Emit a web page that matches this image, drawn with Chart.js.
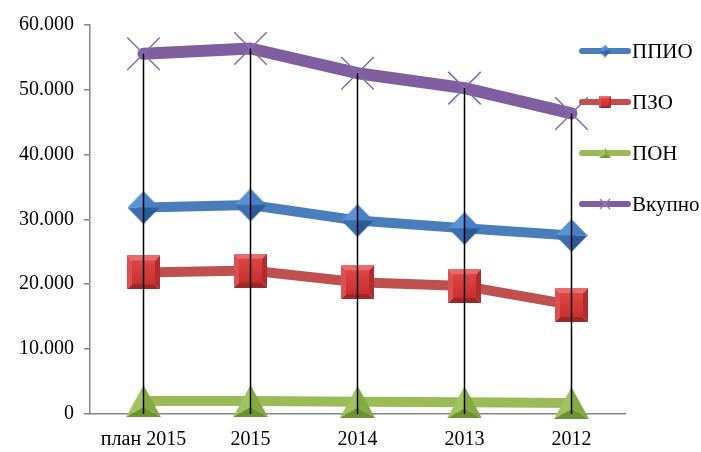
<!DOCTYPE html>
<html>
<head>
<meta charset="utf-8">
<script src="https://cdn.jsdelivr.net/npm/chart.js@4"></script>
<style>
    html, body { margin: 0; padding: 0; background: #ffffff; }
    #wrap { width: 701px; height: 452px; position: relative; }
</style>
</head>
<body>
<div id="wrap"><canvas id="chart"></canvas></div>
<script>
// Categories and series
const categories = ['план 2015', '2015', '2014', '2013', '2012'];
const ppioValues = [31800, 32200, 29800, 28600, 27500];
const pzoValues = [21800, 22100, 20300, 19700, 16800];
const ponValues = [2000, 2000, 1900, 1800, 1700];
const vkupnoValues = [55500, 56300, 52500, 50200, 46300];
const seriesLabels = ['ППИО', 'ПЗО', 'ПОН', 'Вкупно'];
const yTicks = [0, 10000, 20000, 30000, 40000, 50000, 60000];

const FONT = '"Liberation Serif", "Times New Roman", serif';

function formatThousands(v) {
    if (v === 0) return '0';
    const s = String(Math.round(v));
    return s.replace(/\B(?=(\d{3})+(?!\d))/g, '.');
}

// Beveled marker images, drawn once into small canvases
function facet(ctx, pts, color) {
    ctx.fillStyle = color;
    ctx.beginPath();
    ctx.moveTo(pts[0][0], pts[0][1]);
    for (let i = 1; i < pts.length; i++) ctx.lineTo(pts[i][0], pts[i][1]);
    ctx.closePath();
    ctx.fill();
}

function makeDiamond(w, h) {
    const c = document.createElement('canvas');
    c.width = w; c.height = h;
    const ctx = c.getContext('2d');
    const cx = w / 2, cy = h / 2;
    const t = [cx, 0], r = [w, cy], b = [cx, h], l = [0, cy], m = [cx, cy];
    facet(ctx, [l, t, m], '#5A92D6');
    facet(ctx, [t, r, m], '#4780C6');
    facet(ctx, [l, b, m], '#3B6DB0');
    facet(ctx, [b, r, m], '#2B5A97');
    return c;
}

function makeSquare(w, h, bev) {
    const c = document.createElement('canvas');
    c.width = w; c.height = h;
    const ctx = c.getContext('2d');
    facet(ctx, [[0, 0], [w, 0], [w - bev, bev], [bev, bev]], '#E86C6C');
    facet(ctx, [[0, 0], [bev, bev], [bev, h - bev], [0, h]], '#D95252');
    facet(ctx, [[w, 0], [w, h], [w - bev, h - bev], [w - bev, bev]], '#B52A2D');
    facet(ctx, [[0, h], [bev, h - bev], [w - bev, h - bev], [w, h]], '#9E2528');
    const g = ctx.createLinearGradient(0, bev, 0, h - bev);
    g.addColorStop(0, '#DE4547');
    g.addColorStop(1, '#C8302F');
    ctx.fillStyle = g;
    ctx.fillRect(bev, bev, w - 2 * bev, h - 2 * bev);
    return c;
}

function makeTriangle(w, h) {
    const c = document.createElement('canvas');
    c.width = w; c.height = h;
    const ctx = c.getContext('2d');
    const a = [w / 2, 0], bl = [0, h], br = [w, h], m = [w / 2, h * 0.68];
    facet(ctx, [a, bl, m], '#A0C45F');
    facet(ctx, [a, br, m], '#84AA44');
    facet(ctx, [bl, br, m], '#6E9231');
    return c;
}

const diamondImg = makeDiamond(32, 33);
const squareImg = makeSquare(33, 34, 5);
const triangleImg = makeTriangle(35, 32);

// Black drop lines from the total point down to the category axis
const dropLines = {
    id: 'dropLines',
    afterDatasetsDraw(chart) {
        const ctx = chart.ctx;
        const meta = chart.getDatasetMeta(3);
        const yBase = chart.scales.y.getPixelForValue(0);
        ctx.save();
        ctx.strokeStyle = '#000000';
        ctx.lineWidth = 1.5;
        meta.data.forEach(pt => {
            ctx.beginPath();
            ctx.moveTo(pt.x, pt.y);
            ctx.lineTo(pt.x, yBase);
            ctx.stroke();
        });
        ctx.restore();
    }
};

// Legend on the right: thick line sample with a small marker, then the label
const legendMarks = [
    { img: makeDiamond(11, 13) },
    { img: makeSquare(12, 12, 2) },
    { img: makeTriangle(12, 10) },
    { cross: true }
];
const sideLegend = {
    id: 'sideLegend',
    afterDraw(chart) {
        const ctx = chart.ctx;
        const rows = [51, 102, 153, 204];
        ctx.save();
        chart.data.datasets.forEach((ds, i) => {
            const y = rows[i];
            ctx.strokeStyle = ds.borderColor;
            ctx.lineWidth = 6;
            ctx.lineCap = 'round';
            ctx.beginPath();
            ctx.moveTo(582, y);
            ctx.lineTo(628, y);
            ctx.stroke();
            const mk = legendMarks[i];
            if (mk.img) {
                ctx.drawImage(mk.img, 605 - mk.img.width / 2, y - mk.img.height / 2);
            } else {
                ctx.strokeStyle = '#9A7CC0';
                ctx.lineWidth = 1.5;
                ctx.lineCap = 'butt';
                ctx.beginPath();
                ctx.moveTo(600, y - 5); ctx.lineTo(610, y + 5);
                ctx.moveTo(610, y - 5); ctx.lineTo(600, y + 5);
                ctx.stroke();
            }
            ctx.fillStyle = '#000000';
            ctx.font = '21px ' + FONT;
            ctx.textAlign = 'left';
            ctx.textBaseline = 'middle';
            ctx.fillText(ds.label, 632, y + 1);
        });
        ctx.restore();
    }
};

new Chart(document.getElementById('chart'), {
    type: 'line',
    data: {
        labels: categories,
        datasets: [
            {
                label: seriesLabels[0],
                data: ppioValues,
                borderColor: '#4A7EBB',
                borderWidth: 10,
                pointStyle: diamondImg,
                clip: false,
                order: 3
            },
            {
                label: seriesLabels[1],
                data: pzoValues,
                borderColor: '#C0504D',
                borderWidth: 10,
                pointStyle: squareImg,
                clip: false,
                order: 2
            },
            {
                label: seriesLabels[2],
                data: ponValues,
                borderColor: '#9BBB59',
                borderWidth: 10,
                pointStyle: triangleImg,
                clip: false,
                order: 1
            },
            {
                label: seriesLabels[3],
                data: vkupnoValues,
                borderColor: '#7F5FA0',
                borderWidth: 12,
                pointStyle: 'crossRot',
                pointRadius: 23,
                pointBackgroundColor: '#7F5FA0',
                pointBorderColor: '#8A6AB0',
                pointBorderWidth: 1.5,
                clip: false,
                order: 0
            }
        ]
    },
    options: {
        responsive: true,
        maintainAspectRatio: false,
        animation: false,
        layout: {
            padding: { top: 24, right: 76, left: 0, bottom: 0 }
        },
        plugins: {
            legend: { display: false },
            tooltip: { enabled: false }
        },
        elements: {
            line: { tension: 0, borderJoinStyle: 'round', borderCapStyle: 'round' }
        },
        scales: {
            x: {
                offset: true,
                grid: { display: false, drawTicks: false },
                border: { display: true, color: '#868686', width: 1.5 },
                ticks: {
                    color: '#000000',
                    font: { family: FONT, size: 20 },
                    padding: 14,
                    maxRotation: 0
                },
                afterFit(scale) { scale.height = 38; }
            },
            y: {
                min: 0,
                max: 60000,
                afterBuildTicks(scale) {
                    scale.ticks = yTicks.map(v => ({ value: v }));
                },
                grid: {
                    drawOnChartArea: false,
                    drawTicks: true,
                    tickLength: 6,
                    color: '#868686',
                    lineWidth: 1.5
                },
                border: { display: true, color: '#868686', width: 1.5 },
                ticks: {
                    color: '#000000',
                    font: { family: FONT, size: 20 },
                    padding: 10,
                    callback: v => formatThousands(v)
                },
                afterFit(scale) { scale.width = 90; }
            }
        }
    },
    plugins: [dropLines, sideLegend]
});
</script>
</body>
</html>
